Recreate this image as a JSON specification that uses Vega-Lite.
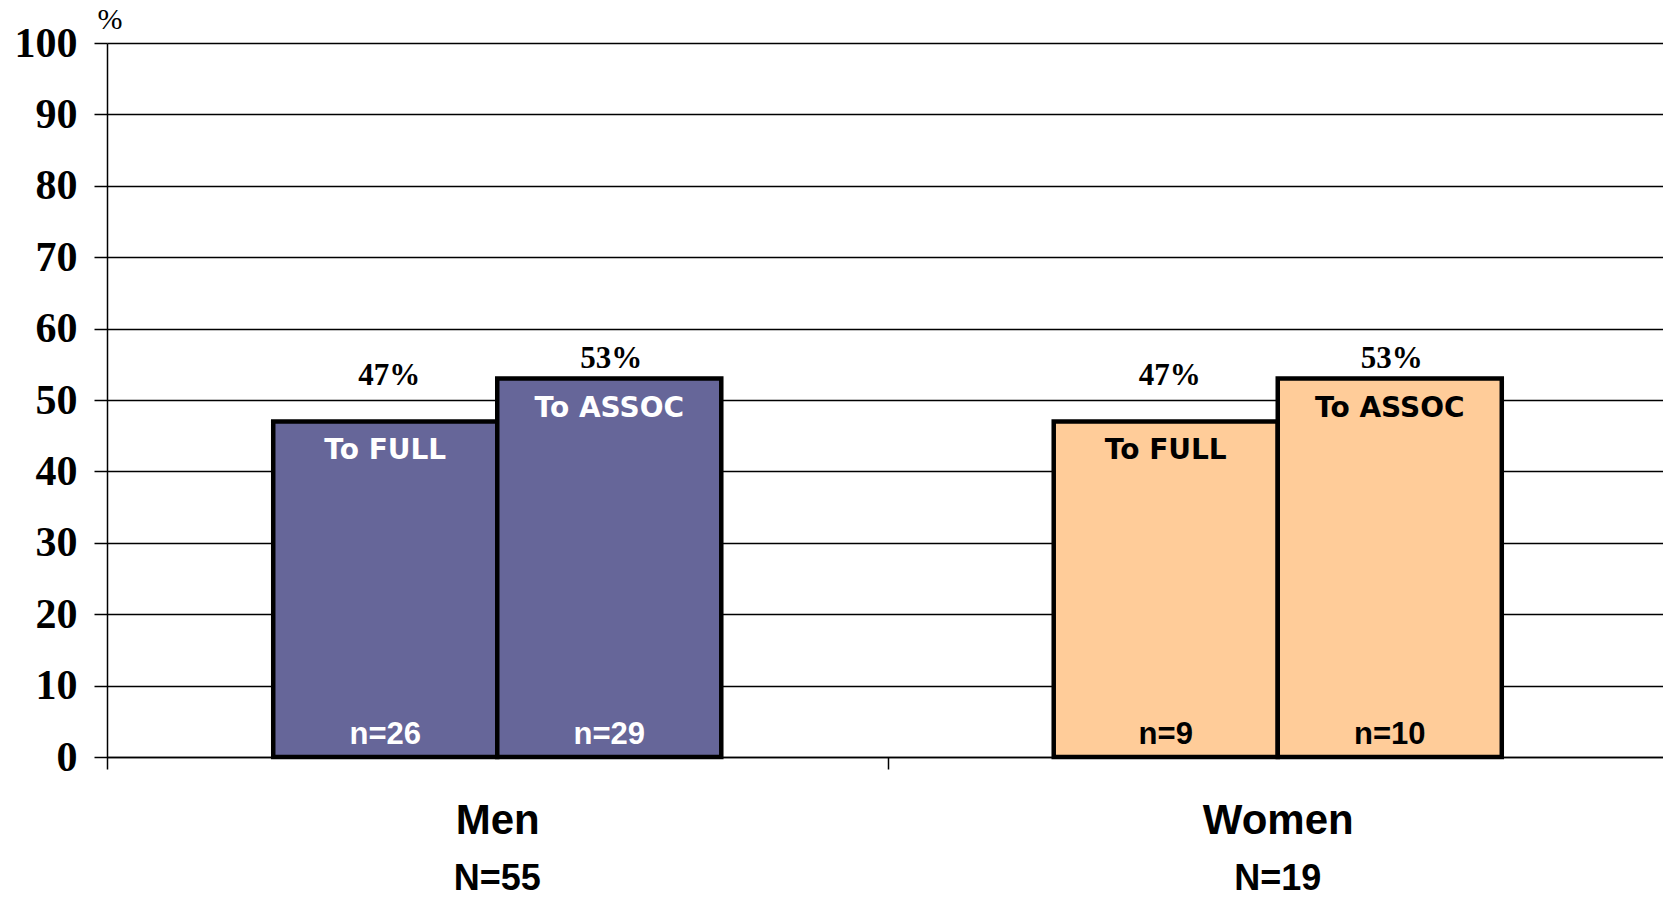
{
  "$schema": "https://vega.github.io/schema/vega-lite/v6.json",
  "width": 1561,
  "height": 714,
  "autosize": {"type": "none"},
  "padding": {"left": 107, "top": 43, "right": 0, "bottom": 141},
  "background": "white",
  "config": {"view": {"stroke": null}},
  "data": {
    "values": [
      {"group": "Men", "groupN": "N=55", "type": "To FULL", "pct": 47, "pctLabel": "47%", "n": "n=26"},
      {"group": "Men", "groupN": "N=55", "type": "To ASSOC", "pct": 53, "pctLabel": "53%", "n": "n=29"},
      {"group": "Women", "groupN": "N=19", "type": "To FULL", "pct": 47, "pctLabel": "47%", "n": "n=9"},
      {"group": "Women", "groupN": "N=19", "type": "To ASSOC", "pct": 53, "pctLabel": "53%", "n": "n=10"}
    ]
  },
  "encoding": {
    "x": {
      "field": "group",
      "type": "nominal",
      "sort": ["Men", "Women"],
      "scale": {"paddingInner": 0, "paddingOuter": 0},
      "axis": {
        "title": null,
        "labelAngle": 0,
        "labelFont": "Liberation Sans",
        "labelFontWeight": "bold",
        "labelFontSize": 42,
        "labelColor": "black",
        "labelPadding": 31,
        "domain": true,
        "domainColor": "black",
        "domainWidth": 1.5,
        "ticks": true,
        "tickBand": "extent",
        "tickSize": 12,
        "tickColor": "black",
        "tickWidth": 1.5,
        "grid": false
      }
    }
  },
  "layer": [
    {
      "mark": {"type": "bar", "stroke": "black", "strokeWidth": 4.5, "strokeJoin": "miter"},
      "encoding": {
        "xOffset": {"field": "type", "sort": ["To FULL", "To ASSOC"], "scale": {"paddingInner": 0, "paddingOuter": 0.742}},
        "y": {
          "field": "pct",
          "type": "quantitative",
          "scale": {"domain": [0, 100], "nice": false},
          "axis": {
            "values": [0, 10, 20, 30, 40, 50, 60, 70, 80, 90, 100],
            "title": "%",
            "titleAngle": 0,
            "titleAnchor": "end",
            "titleAlign": "left",
            "titleBaseline": "bottom",
            "titleX": -10,
            "titleY": -9,
            "titleFont": "Liberation Serif",
            "titleFontSize": 30,
            "titleFontWeight": "normal",
            "titleColor": "black",
            "labelFont": "Liberation Serif",
            "labelFontSize": 42,
            "labelFontWeight": "bold",
            "labelColor": "black",
            "labelPadding": 17,
            "tickSize": 13,
            "tickColor": "black",
            "tickWidth": 1.5,
            "domainColor": "black",
            "domainWidth": 1.5,
            "grid": true,
            "gridColor": "black",
            "gridWidth": 1.5
          }
        },
        "color": {
          "field": "group",
          "type": "nominal",
          "scale": {"domain": ["Men", "Women"], "range": ["#666699", "#FFCC99"]},
          "legend": null
        }
      }
    },
    {
      "transform": [{"filter": "datum.type === 'To FULL'"}],
      "mark": {"type": "text", "font": "Liberation Serif", "fontWeight": "bold", "fontSize": 31, "baseline": "alphabetic", "dy": -36, "dx": 4, "color": "black"},
      "encoding": {
        "xOffset": {"field": "type", "sort": ["To FULL", "To ASSOC"], "scale": {"paddingInner": 0, "paddingOuter": 0.742}},
        "y": {"field": "pct", "type": "quantitative"},
        "text": {"field": "pctLabel"}
      }
    },
    {
      "transform": [{"filter": "datum.type === 'To ASSOC'"}],
      "mark": {"type": "text", "font": "Liberation Serif", "fontWeight": "bold", "fontSize": 31, "baseline": "alphabetic", "dy": -11, "dx": 2, "color": "black"},
      "encoding": {
        "xOffset": {"field": "type", "sort": ["To FULL", "To ASSOC"], "scale": {"paddingInner": 0, "paddingOuter": 0.742}},
        "y": {"field": "pct", "type": "quantitative"},
        "text": {"field": "pctLabel"}
      }
    },
    {
      "mark": {"type": "text", "font": "DejaVu Sans", "fontWeight": "bold", "fontSize": 28, "baseline": "alphabetic", "dy": 38},
      "encoding": {
        "xOffset": {"field": "type", "sort": ["To FULL", "To ASSOC"], "scale": {"paddingInner": 0, "paddingOuter": 0.742}},
        "y": {"field": "pct", "type": "quantitative"},
        "text": {"field": "type"},
        "color": {"condition": {"test": "datum.group === 'Men'", "value": "white"}, "value": "black"}
      }
    },
    {
      "mark": {"type": "text", "font": "Liberation Sans", "fontWeight": "bold", "fontSize": 31, "baseline": "alphabetic", "dy": -13},
      "encoding": {
        "xOffset": {"field": "type", "sort": ["To FULL", "To ASSOC"], "scale": {"paddingInner": 0, "paddingOuter": 0.742}},
        "y": {"datum": 0},
        "text": {"field": "n"},
        "color": {"condition": {"test": "datum.group === 'Men'", "value": "white"}, "value": "black"}
      }
    },
    {
      "transform": [{"filter": "datum.type === 'To FULL'"}],
      "mark": {"type": "text", "font": "Liberation Sans", "fontWeight": "bold", "fontSize": 36, "baseline": "alphabetic", "dy": 133, "color": "black"},
      "encoding": {
        "y": {"datum": 0},
        "text": {"field": "groupN"}
      }
    }
  ]
}
